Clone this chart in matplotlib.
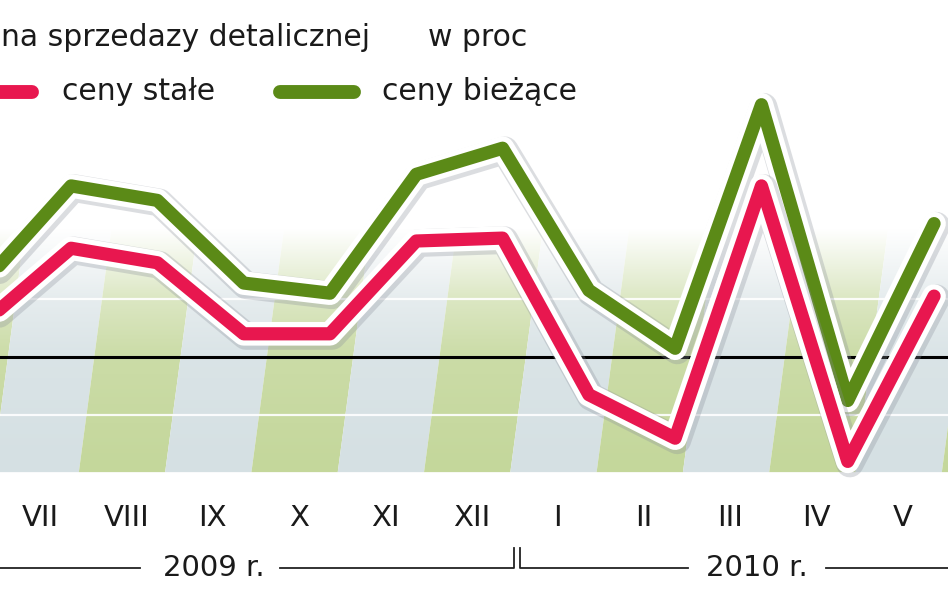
import matplotlib
matplotlib.use("Agg")
import matplotlib.pyplot as plt
import matplotlib.patheffects as pe
from matplotlib.lines import Line2D
import numpy as np

months = ["VII", "VIII", "IX", "X", "XI", "XII", "I", "II", "III", "IV", "V"]
years = ["2009 r.", "2010 r."]
# y/y change of retail sales, %
ceny_biezace = [5.9, 5.4, 2.55, 2.2, 6.3, 7.2, 2.3, 0.3, 8.7, -1.5, 4.6]
ceny_stale = [3.75, 3.25, 0.8, 0.8, 4.0, 4.1, -1.3, -2.8, 5.9, -3.6, 2.1]
prev_biezace = 2.6   # VI 2009 (off the left edge)
prev_stale = 1.2

GREEN = "#5b8a17"
RED = "#e8174f"
BAND_G = "#c4d79b"
BAND_B = "#d5e0e3"

W, H = 948, 593
fig = plt.figure(figsize=(W / 100, H / 100), dpi=100)
ax = fig.add_axes([0, 0, 1, 1])
ax.set_axis_off()

x0_px, step_px, zero_px, unit_px = 40.0, 86.3, 357.0, 29.0
xmin, xmax = -x0_px / step_px, (W - x0_px) / step_px
ymin, ymax = (zero_px - H) / unit_px, zero_px / unit_px

n = len(months)
idx = np.arange(n)

# background slanted bands
bottom, top = -3.97, 5.2
skew = 0.045
for i in range(-1, n + 1):
    col = BAND_G if i % 2 == 1 else BAND_B
    xa = i - 0.55
    xb = xa + skew * (top - bottom)
    ax.fill([xa, xa + 1, xb + 1, xb], [bottom, bottom, top, top], color=col,
            lw=0, zorder=1)

# white fade overlay (stronger towards the top, slight lightening at bottom)
yy = np.linspace(bottom, top, 400)
alpha = np.where(yy <= 0, 0.12 * (yy - bottom) / (0 - bottom),
                 np.where(yy <= 2, 0.12 + 0.28 * yy / 2,
                          0.4 + 0.6 * np.clip((yy - 2) / 2.4, 0, 1)))
img = np.ones((len(yy), 2, 4))
img[:, :, 3] = alpha[:, None]
ax.imshow(img, extent=[xmin, xmax, bottom, top], origin="lower",
          aspect="auto", interpolation="bilinear", zorder=1.5)
ax.set_xlim(xmin, xmax)
ax.set_ylim(ymin, ymax)

# white grid lines
for g in (2, -2):
    ax.axhline(g, color="white", lw=1.6, alpha=0.9, zorder=2)
ax.axhline(0, color="black", lw=2.2, zorder=3)

# data lines
off = 0.36
xs = np.concatenate([[-1], idx]) + off
gb = [prev_biezace] + ceny_biezace
gs = [prev_stale] + ceny_stale

def effects():
    return [pe.SimpleLineShadow(offset=(1.5, -1.5), shadow_color="#8a8f9a",
                                alpha=0.3, linewidth=20),
            pe.Stroke(linewidth=17, foreground="white"),
            pe.Normal()]

ax.plot(xs, gb, color=GREEN, lw=9.5, solid_joinstyle="round",
        solid_capstyle="round", path_effects=effects(), zorder=5)
ax.plot(xs, gs, color=RED, lw=9.5, solid_joinstyle="round",
        solid_capstyle="round", path_effects=effects(), zorder=6)

# month labels
lab_y = (zero_px - 518) / unit_px
for i, m in enumerate(months):
    ax.text(i, lab_y, m, ha="center", va="center", fontsize=21,
            color="#1a1a1a", family="DejaVu Sans")

# year brackets
yr_y = (zero_px - 568) / unit_px
br_y = (zero_px - 548) / unit_px
def px2x(p):
    return (p - x0_px) / step_px
lk = dict(color="#222222", lw=1.3, zorder=4)
ax.plot([px2x(-5), px2x(140)], [yr_y, yr_y], **lk)
ax.plot([px2x(280), px2x(514), px2x(514)], [yr_y, yr_y, br_y], **lk)
ax.plot([px2x(520), px2x(520), px2x(688)], [br_y, yr_y, yr_y], **lk)
ax.plot([px2x(826), px2x(955)], [yr_y, yr_y], **lk)
ax.text(px2x(214), yr_y, years[0], ha="center", va="center", fontsize=21,
        color="#1a1a1a", family="DejaVu Sans")
ax.text(px2x(757), yr_y, years[1], ha="center", va="center", fontsize=21,
        color="#1a1a1a", family="DejaVu Sans")

# title and legend
tf = "DejaVu Sans"
fig.text(1 / W, 1 - 38 / H, "na sprzedazy detalicznej", ha="left", va="center",
         fontsize=21.5, family=tf, color="#1a1a1a")
fig.text(428 / W, 1 - 38 / H, "w proc", ha="left", va="center",
         fontsize=21.5, family=tf, color="#1a1a1a")
ly = 1 - 92 / H
fig.add_artist(Line2D([-10 / W, 32 / W], [ly, ly], color=RED, lw=10,
                      solid_capstyle="round"))
fig.add_artist(Line2D([280 / W, 354 / W], [ly, ly], color=GREEN, lw=10,
                      solid_capstyle="round"))
fig.text(62 / W, ly, "ceny stałe", ha="left", va="center", fontsize=21.5,
         family=tf, color="#1a1a1a")
fig.text(382 / W, ly, "ceny bieżące", ha="left", va="center", fontsize=21.5,
         family=tf, color="#1a1a1a")

fig.savefig("out.png", dpi=100)
